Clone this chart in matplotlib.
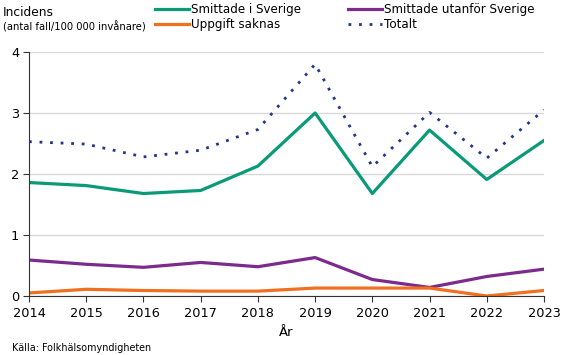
import matplotlib.pyplot as plt

# Data
ar = [2014, 2015, 2016, 2017, 2018, 2019, 2020, 2021, 2022, 2023]
smittade_sverige = [1.86, 1.81, 1.68, 1.73, 2.13, 3.00, 1.68, 2.72, 1.91, 2.55]
smittade_utanfor = [0.59, 0.52, 0.47, 0.55, 0.48, 0.63, 0.27, 0.14, 0.32, 0.44]
uppgift_saknas = [0.05, 0.11, 0.09, 0.08, 0.08, 0.13, 0.13, 0.13, 0.00, 0.09]
totalt = [2.53, 2.49, 2.28, 2.39, 2.73, 3.80, 2.12, 3.01, 2.26, 3.05]

plt.rcParams['font.family'] = ['DejaVu Sans']

fig = plt.figure(figsize=(5.67, 3.55), dpi=100)
ax = fig.add_axes([29 / 567, 1 - 296 / 355, (544 - 29) / 567, (296 - 52) / 355])

l1, = ax.plot(ar, smittade_sverige, color='#0a9a78', lw=2.3, label='Smittade i Sverige')
l2, = ax.plot(ar, smittade_utanfor, color='#7d2a8e', lw=2.3, label='Smittade utanför Sverige')
l3, = ax.plot(ar, uppgift_saknas, color='#f07020', lw=2.3, label='Uppgift saknas')
l4, = ax.plot(ar, totalt, color='#22358a', lw=2, ls=(0, (1, 2.8)), label='Totalt')

ax.set_xlim(2014, 2023)
ax.set_ylim(0, 4)
ax.set_xticks(ar)
ax.set_yticks([0, 1, 2, 3, 4])
ax.grid(axis='y', color='#d9d9d9', lw=1)
ax.set_axisbelow(True)
for s in ['top', 'right']:
    ax.spines[s].set_visible(False)
ax.spines['left'].set_color('#333333')
ax.spines['bottom'].set_color('#333333')
ax.tick_params(axis='both', labelsize=9.3, length=4, color='#333333')
ax.tick_params(axis='x', pad=4)
ax.tick_params(axis='y', pad=3)
ax.set_xlabel('År', fontsize=9.5)
ax.xaxis.set_label_coords(0.5, -0.125)

fig.legend(handles=[l1, l3, l2, l4], ncol=2, loc='upper left',
           bbox_to_anchor=(155 / 567, 1 - 3.5 / 355), frameon=False, fontsize=8.6,
           handlelength=2.85, handletextpad=0.2, columnspacing=3.9,
           labelspacing=0.15, borderaxespad=0, borderpad=0)

fig.text(3 / 567, 1 - 13 / 355, 'Incidens', fontsize=8.8, va='center')
fig.text(3 / 567, 1 - 27 / 355, '(antal fall/100 000 invånare)', fontsize=7.2, va='center')
fig.text(12 / 567, 1 - 348 / 355, 'Källa: Folkhälsomyndigheten', fontsize=6.9, va='center')

fig.savefig('out.png', dpi=100)
